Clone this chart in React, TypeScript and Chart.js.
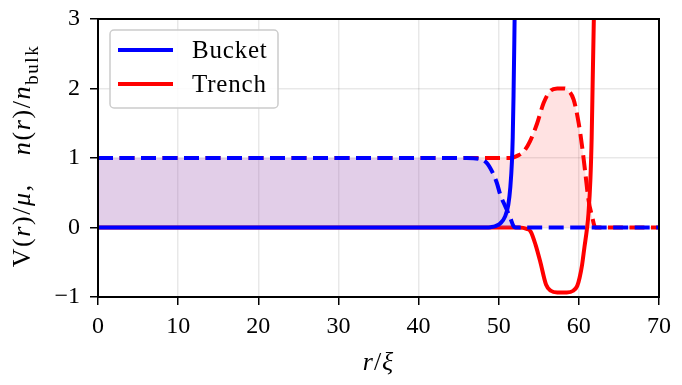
import React, { useEffect, useRef } from "react";
import { Chart, registerables } from "chart.js";

Chart.register(...registerables);

// r/xi positions and values
const bucketVR = [0, 48.5, 49.0, 49.6, 50.2, 50.8, 51.2, 51.45, 51.65, 51.75, 51.85, 51.95, 52.05];
const bucketV = [0, 0, 0.005, 0.02, 0.06, 0.16, 0.33, 0.58, 0.95, 1.3, 1.9, 2.7, 3.6];

const bucketNR = [0, 46, 47.5, 48.5, 49.15, 49.77, 50.2, 50.8, 51.44, 51.85, 52.1, 70];
const bucketN = [1, 1, 0.99, 0.93, 0.81, 0.64, 0.47, 0.31, 0.14, 0.02, 0, 0];

const trenchVR = [0, 52.5, 53.5, 54.0, 54.6, 55.2, 55.9, 56.5, 57.3, 58.5, 59.3, 59.8, 60.1, 60.4, 60.7, 61.0, 61.2, 61.44, 61.6, 61.73, 61.87, 62.0];
const trenchV = [0, 0, -0.02, -0.06, -0.25, -0.5, -0.82, -0.91, -0.935, -0.935, -0.91, -0.84, -0.72, -0.54, -0.28, -0.03, 0.2, 0.69, 1.3, 2.13, 3.0, 3.8];

const trenchNR = [0, 51.5, 52.3, 53.1, 53.9, 54.8, 55.6, 56.4, 57.3, 58.1, 58.6, 59.35, 59.98, 60.4, 60.8, 61.2, 61.65, 62.06, 70];
const trenchN = [1, 1, 1.03, 1.09, 1.24, 1.5, 1.79, 1.96, 2.0, 2.0, 1.98, 1.84, 1.5, 1.17, 0.79, 0.4, 0.16, 0, 0];

const seriesLabels = ["Bucket", "Trench"];

const FONT = "'Liberation Serif', 'DejaVu Serif', serif";
const FS = 24;
const LW = 4;

const pts = (xs: number[], ys: number[]) => xs.map((x, i) => ({ x, y: ys[i] }));

type Seg = { t: string; it?: boolean; sub?: boolean; gap?: number };

function drawSegs(ctx: CanvasRenderingContext2D, segs: Seg[], size: number, spacing: number) {
  const fontOf = (s: Seg) => `${s.it ? "italic " : ""}${s.sub ? Math.round(size * 0.72) : size}px ${FONT}`;
  (ctx as any).letterSpacing = spacing + "px";
  const w = (s: Seg) => {
    if (s.gap) return s.gap;
    ctx.font = fontOf(s);
    return ctx.measureText(s.t).width;
  };
  let total = 0;
  for (const s of segs) total += w(s);
  let x = -total / 2;
  for (const s of segs) {
    if (!s.gap) {
      ctx.font = fontOf(s);
      ctx.fillText(s.t, x, s.sub ? size * 0.3 : 0);
    }
    x += w(s);
  }
  (ctx as any).letterSpacing = "0px";
}

const decorPlugin = {
  id: "decor",
  afterDraw(chart: any) {
    const { ctx, chartArea } = chart;
    ctx.save();
    // frame
    ctx.strokeStyle = "#000";
    ctx.lineWidth = 2;
    ctx.strokeRect(chartArea.left, chartArea.top, chartArea.right - chartArea.left, chartArea.bottom - chartArea.top);

    // legend
    const bx = 110, by = 30, bw = 168, bh = 78, rad = 4;
    ctx.beginPath();
    ctx.moveTo(bx + rad, by);
    ctx.arcTo(bx + bw, by, bx + bw, by + bh, rad);
    ctx.arcTo(bx + bw, by + bh, bx, by + bh, rad);
    ctx.arcTo(bx, by + bh, bx, by, rad);
    ctx.arcTo(bx, by, bx + bw, by, rad);
    ctx.closePath();
    ctx.fillStyle = "rgba(255,255,255,0.85)";
    ctx.fill();
    ctx.strokeStyle = "#cccccc";
    ctx.lineWidth = 1.5;
    ctx.stroke();
    const cols = ["#0000ff", "#ff0000"];
    const ys = [50, 84];
    ctx.lineWidth = LW;
    ctx.textBaseline = "middle";
    ctx.textAlign = "left";
    ctx.font = `25px ${FONT}`;
    for (let i = 0; i < 2; i++) {
      ctx.strokeStyle = cols[i];
      ctx.beginPath();
      ctx.moveTo(118, ys[i]);
      ctx.lineTo(173, ys[i]);
      ctx.stroke();
      ctx.fillStyle = "#000";
      (ctx as any).letterSpacing = "0.8px";
      ctx.fillText(seriesLabels[i], 192, ys[i] + 1);
      (ctx as any).letterSpacing = "0px";
    }

    // x title
    ctx.textBaseline = "alphabetic";
    ctx.fillStyle = "#000";
    ctx.save();
    ctx.translate((chartArea.left + chartArea.right) / 2, 370);
    drawSegs(ctx, [{ t: "r", it: true }, { t: "/" }, { t: "ξ", it: true }], 26, 1);
    ctx.restore();

    // y title
    ctx.save();
    ctx.translate(30, 156);
    ctx.rotate(-Math.PI / 2);
    drawSegs(
      ctx,
      [
        { t: "V" }, { t: "(" }, { t: "r", it: true }, { t: ")/" }, { t: "μ", it: true }, { t: "," },
        { t: "", gap: 28 },
        { t: "n", it: true }, { t: "(" }, { t: "r", it: true }, { t: ")/" }, { t: "n", it: true }, { t: "bulk", sub: true },
      ],
      26,
      1.6
    );
    ctx.restore();
    ctx.restore();
  },
};

export default function App() {
  const ref = useRef<HTMLCanvasElement>(null);
  useEffect(() => {
    if (!ref.current) return;
    const line = (data: any, color: string, dashed: boolean, fill: any, order: number) => ({
      data,
      borderColor: color,
      borderWidth: LW,
      borderDash: dashed ? [15, 6.5] : [],
      pointRadius: 0,
      cubicInterpolationMode: "monotone",
      fill,
      backgroundColor: fill ? (color === "#0000ff" ? "rgba(110,126,255,0.2)" : "rgba(255,0,0,0.115)") : "transparent",
      order,
      clip: 0,
    });
    const chart = new Chart(ref.current, {
      type: "line",
      data: {
        datasets: [
          line(pts(bucketVR, bucketV), "#0000ff", false, false, 0) as any,
          line(pts(bucketNR, bucketN), "#0000ff", true, "origin", 1) as any,
          line(pts(trenchVR, trenchV), "#ff0000", false, false, 2) as any,
          line(pts(trenchNR, trenchN), "#ff0000", true, "origin", 3) as any,
        ],
      },
      options: {
        animation: false,
        responsive: false,
        devicePixelRatio: 1,
        layout: { padding: { left: 0, right: 23, top: 19, bottom: 0 } },
        plugins: { legend: { display: false }, tooltip: { enabled: false } },
        scales: {
          x: {
            type: "linear",
            min: 0,
            max: 70,
            afterFit: (s: any) => { s.height = 88; s.paddingLeft = 0; s.paddingRight = 0; },
            ticks: { stepSize: 10, color: "#000", font: { family: FONT, size: FS }, padding: 7, maxRotation: 0 },
            grid: { color: "rgba(0,0,0,0.09)", lineWidth: 1.5, tickColor: "#000", tickLength: 8, tickWidth: 1.5 },
            border: { display: false },
          },
          y: {
            type: "linear",
            min: -1,
            max: 3,
            afterFit: (s: any) => { s.width = 98; s.paddingTop = 0; s.paddingBottom = 0; },
            ticks: {
              stepSize: 1,
              color: "#000",
              font: { family: FONT, size: FS },
              padding: 10,
              callback: (v: any) => (v < 0 ? "−" + Math.abs(v) : String(v)),
            },
            grid: { color: "rgba(0,0,0,0.09)", lineWidth: 1.5, tickColor: "#000", tickLength: 8, tickWidth: 1.5 },
            border: { display: false },
          },
        },
      },
      plugins: [decorPlugin],
    });
    return () => chart.destroy();
  }, []);
  return (
    <div style={{ position: "absolute", left: 0, top: 0, width: 682, height: 385, background: "#fff" }}>
      <canvas ref={ref} width={682} height={385} />
    </div>
  );
}
